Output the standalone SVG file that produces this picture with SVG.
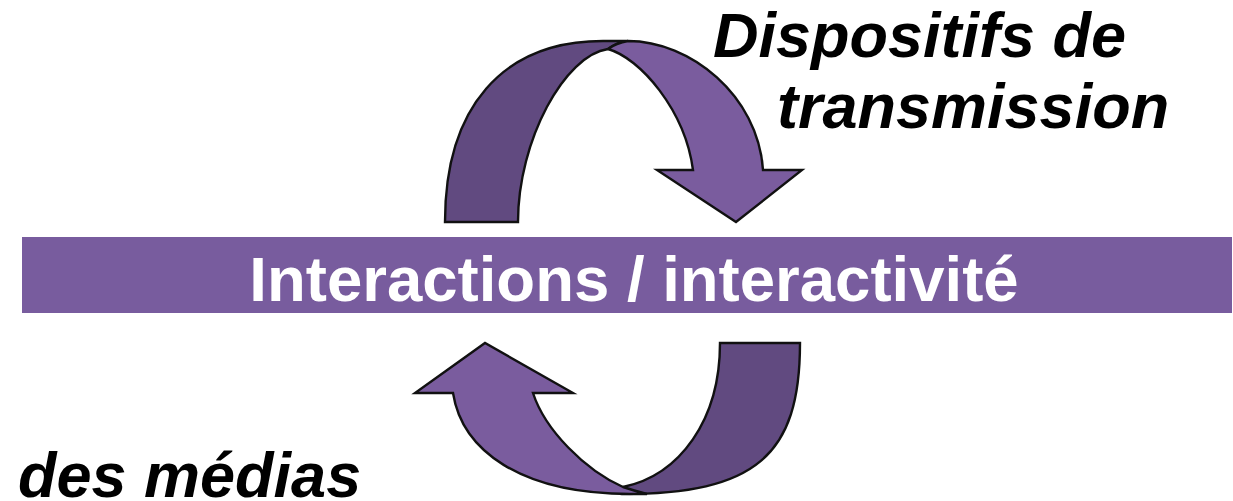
<svg xmlns="http://www.w3.org/2000/svg" width="1233" height="501" viewBox="0 0 1233 501">
<style>
.light{fill:#7a5c9e;stroke:#111;stroke-width:2.4;stroke-linejoin:miter}
.dark{fill:#614a80;stroke:#111;stroke-width:2.4}
.lbl{font-family:"Liberation Sans",Arial,sans-serif;font-weight:bold;font-style:italic;font-size:63px;fill:#000}
.bar{font-family:"Liberation Sans",Arial,sans-serif;font-weight:bold;font-size:63.5px;fill:#fff}
</style>
<rect width="1233" height="501" fill="#fff"/>
<g id="connectors">
<g id="arrow-top">
<path class="dark" d="M445,222 C445,108 502,41 603,41 L628,41 Q616,43 608,49 C565,55 518,140 518,222 Z"/>
<path class="light" d="M608,49 Q616,43 628,41 C690,41 758,95 763,170 L802,170 L736,222 L657,170 L693,170 C685,110 640,58 608,49 Z"/>
</g>
<g id="arrow-bottom">
<path class="dark" d="M720,343 L800,343 C800,456 755,494 622,494 L623,487 C680,475 720,420 720,343 Z"/>
<path class="light" d="M623,487 Q635,491 647,494 L630,494 C520,494 462,450 453,393 L415,393 L485,343 L573,393 L533,393 C545,430 585,470 623,487 Z"/>
</g>
</g>
<g id="node-bar">
<rect x="22" y="237" width="1210" height="76" fill="#785c9e"/>
<text class="bar" x="634" y="301" text-anchor="middle">Interactions / interactivité</text>
</g>
<g id="node-dispositifs">
<text class="lbl" x="713" y="57">Dispositifs de</text>
<text class="lbl" x="777" y="128">transmission</text>
</g>
<g id="node-medias">
<text class="lbl" x="18" y="497">des médias</text>
</g>
</svg>
